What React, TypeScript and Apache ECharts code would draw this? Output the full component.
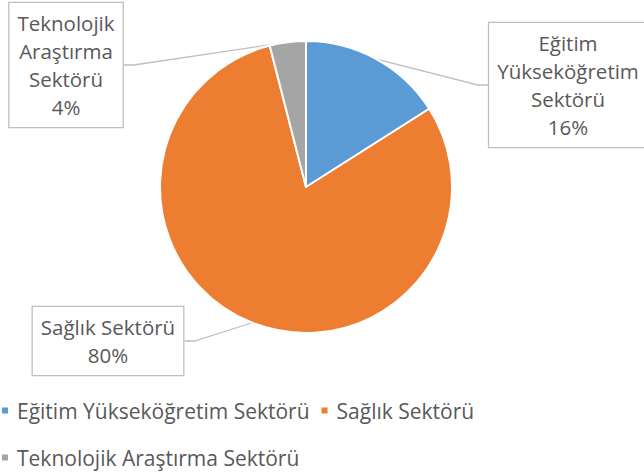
import React, { useEffect, useRef } from "react";
import * as echarts from "echarts";

const categories = [
  "Eğitim Yükseköğretim Sektörü",
  "Sağlık Sektörü",
  "Teknolojik Araştırma Sektörü",
];
const labelNames = [
  "Eğitim\nYükseköğretim\nSektörü",
  "Sağlık Sektörü",
  "Teknolojik\nAraştırma\nSektörü",
];
const values = [16, 80, 4];
const colors = ["#5B9BD5", "#ED7D31", "#A5A5A5"];

// label box centres (layout only)
const labelPos = [
  [568, 85],
  [108, 341],
  [66, 65],
];

export default function App() {
  const ref = useRef<HTMLDivElement>(null);
  useEffect(() => {
    if (!ref.current) return;
    const chart = echarts.init(ref.current, null, { renderer: "svg" });
    const font = "'Open Sans', 'Noto Sans', sans-serif";
    const legendCommon = {
      left: 0,
      padding: 0,
      itemGap: 10,
      itemWidth: 8,
      itemHeight: 8,
      icon: "rect",
      textStyle: {
        fontFamily: font,
        fontSize: 21,
        color: "#595959",
        padding: [0, 0, 0, 3],
      },
    };
    chart.setOption({
      animation: false,
      backgroundColor: "#ffffff",
      legend: [
        { ...legendCommon, data: [categories[0], categories[1]], top: 400 },
        { ...legendCommon, data: [categories[2]], top: 447 },
      ],
      series: [
        {
          type: "pie",
          center: [306, 187],
          radius: 146,
          startAngle: 90,
          clockwise: true,
          itemStyle: { borderColor: "#ffffff", borderWidth: 2 },
          label: {
            show: true,
            position: "outside",
            fontFamily: font,
            fontSize: 20.5,
            lineHeight: 28,
            color: "#595959",
            align: "center",
            backgroundColor: "#ffffff",
            borderColor: "#BFBFBF",
            borderWidth: 1.3,
            padding: [7, 8, 5, 8],
            formatter: (p: any) =>
              labelNames[p.dataIndex] + "\n" + Math.round(p.percent) + "%",
          },
          labelLine: {
            show: true,
            length: 10,
            length2: 10,
            lineStyle: { color: "#BFBFBF", width: 1.3 },
          },
          labelLayout: (p: any) => ({
            x: labelPos[p.dataIndex][0],
            y: labelPos[p.dataIndex][1],
            align: "center",
            verticalAlign: "middle",
          }),
          data: categories.map((c, i) => ({
            name: c,
            value: values[i],
            itemStyle: { color: colors[i] },
          })),
        },
      ],
    });
    return () => chart.dispose();
  }, []);
  return (
    <div
      ref={ref}
      style={{ position: "absolute", left: 0, top: 0, width: 644, height: 475 }}
    />
  );
}
